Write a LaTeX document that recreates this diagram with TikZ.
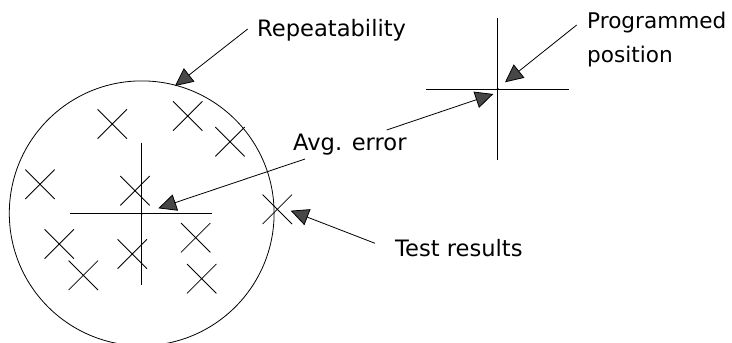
\documentclass[tikz,border=0pt]{standalone}
\usepackage{fontspec}
\setmainfont{DejaVu Sans}
\usetikzlibrary{arrows.meta}
\begin{document}
\begin{tikzpicture}[x=1pt,y=-1pt,
  lbl/.style={inner sep=0pt, anchor=base west, font=\fontsize{22.6}{26}\selectfont},
  plbl/.style={lbl, font=\fontsize{21.6}{26}\selectfont},
  ln/.style={line width=0.8pt, black},
  ptr/.style={line width=0.8pt, -{Triangle[length=18pt,width=17pt,fill=black!72]}},
  xmark/.style={line width=0.8pt}]
\clip (0,0) rectangle (732,343);
\fill[white] (0,0) rectangle (732,343);
% repeatability circle
\draw[ln] (141.7,213.3) circle[radius=132.4];
% test results
\foreach \x/\y in {112.3/124, 187.7/116, 230/141.7, 40/184.3, 135/190.7, 277.3/209.3, 59.3/244, 132.3/254, 195.7/237.7, 83.3/275.3, 201.7/278.7}
  \draw[xmark] (\x-14.7,\y-14.7) -- (\x+14.7,\y+14.7) (\x-14.7,\y+14.7) -- (\x+14.7,\y-14.7);
% average cross
\coordinate (avgc) at (141.7,213.7);
\draw[ln] (141.7,142.7) -- (141.7,285) (70.3,213.7) -- (212.3,213.7);
\fill (avgc) circle[radius=1.2pt];
% programmed cross
\coordinate (progc) at (497.7,89);
\draw[ln] (497.7,18.3) -- (497.7,160) (426,89) -- (568.7,89);
\fill (progc) circle[radius=1.2pt];
% labels
\node[lbl] (rep) at (257,36) {Repeatability};
\node[lbl] (avg) at (293,150) {Avg. error};
\node[lbl] (test) at (395,256) {Test results};
\node[plbl] (prog1) at (587,28.3) {Programmed};
\node[plbl] (prog2) at (587,62.7) {position};
% arrow ends
\coordinate (repS) at (247.7,29);   \coordinate (repT) at (175,86);
\coordinate (progS) at (576.7,25);  \coordinate (progT) at (505,82.3);
\coordinate (avgS1) at (386.7,130); \coordinate (avgT1) at (493.3,94);
\coordinate (avgS2) at (305,159);   \coordinate (avgT2) at (158.3,208.3);
\coordinate (testS) at (375,243.3); \coordinate (testT) at (290.7,210.7);
\draw[ptr] (repS) -- (repT);
\draw[ptr] (progS) -- (progT);
\draw[ptr] (avgS1) -- (avgT1);
\draw[ptr] (avgS2) -- (avgT2);
\draw[ptr] (testS) -- (testT);
\end{tikzpicture}
\end{document}
